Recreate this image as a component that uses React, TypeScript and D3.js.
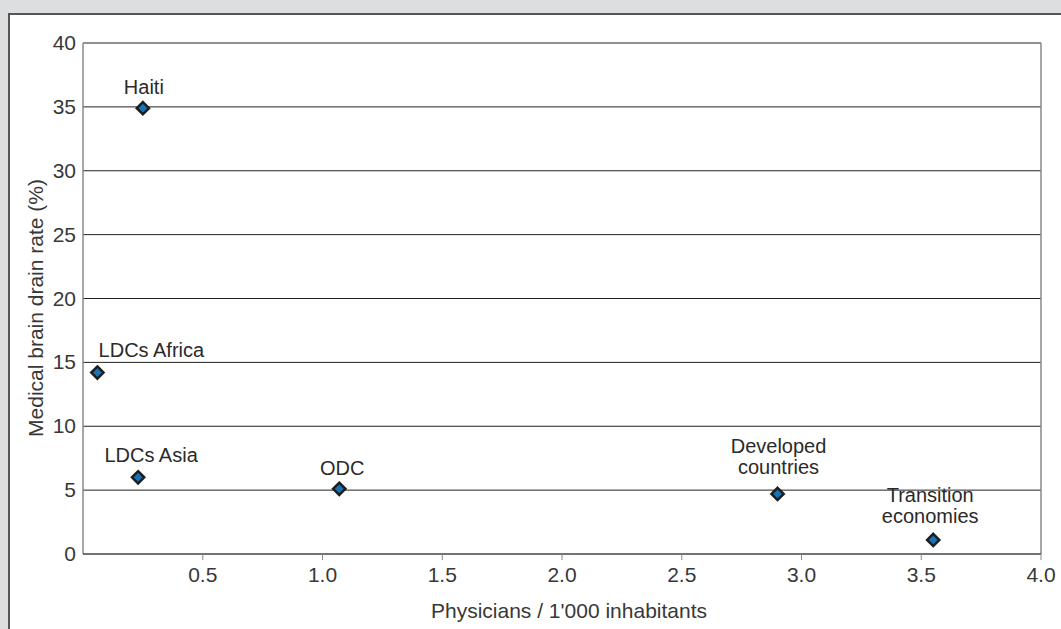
import React from "react";
import * as d3 from "d3";

const labels = [["Haiti"], ["LDCs Africa"], ["LDCs Asia"], ["ODC"], ["Developed", "countries"], ["Transition", "economies"]];
const physicians = [0.25, 0.06, 0.23, 1.07, 2.9, 3.55];
const drainRate = [34.9, 14.2, 6.0, 5.1, 4.7, 1.1];
const xTicks = [0.5, 1.0, 1.5, 2.0, 2.5, 3.0, 3.5, 4.0];
const yTicks = [0, 5, 10, 15, 20, 25, 30, 35, 40];

const W = 1061, H = 629;
const FONT = "'Liberation Sans', Arial, Helvetica, sans-serif";

export default function App() {
  const x = d3.scaleLinear().domain([0, 4]).range([83, 1041]);
  const y = d3.scaleLinear().domain([0, 40]).range([554, 43]);
  const diamond = d3.symbol().type(d3.symbolDiamond2).size(96)();
  // label offsets (relative to point) in px: dx, baseline dy of first line
  const labelPos = [
    { dx: 1, dy: -14 },
    { dx: 54, dy: -16 },
    { dx: 13, dy: -15 },
    { dx: 3, dy: -14 },
    { dx: 1, dy: -41 },
    { dx: -3, dy: -38 },
  ];
  return (
    <svg width={W} height={H} style={{ position: "absolute", left: 0, top: 0, display: "block" }} fontFamily={FONT}>
      <rect x={0} y={0} width={W} height={H} fill="#dddedf" />
      <rect x={9} y={14} width={W + 20} height={H + 20} fill="#ffffff" stroke="#555" strokeWidth={2} />
      {yTicks.filter(t => t > 0).map(t => (
        <line key={"g" + t} x1={x(0)} x2={x(4)} y1={y(t)} y2={y(t)} stroke="#222" strokeWidth={1} />
      ))}
      <line x1={x(0)} x2={x(0)} y1={y(40)} y2={y(0)} stroke="#888" strokeWidth={1.5} />
      <line x1={x(4)} x2={x(4)} y1={y(40)} y2={y(0)} stroke="#888" strokeWidth={1.5} />
      <line x1={x(0)} x2={x(4)} y1={y(0)} y2={y(0)} stroke="#444" strokeWidth={1.5} />
      {xTicks.map(t => (
        <g key={"x" + t}>
          <line x1={x(t)} x2={x(t)} y1={y(0)} y2={y(0) + 6} stroke="#888" strokeWidth={1} />
          <text x={x(t)} y={y(0) + 28} textAnchor="middle" fontSize={21} fill="#383838">{t.toFixed(1)}</text>
        </g>
      ))}
      {yTicks.map(t => (
        <text key={"y" + t} x={x(0) - 7} y={y(t) + 7} textAnchor="end" fontSize={21} fill="#383838">{t}</text>
      ))}
      <text x={569} y={618} textAnchor="middle" fontSize={21} fill="#383838">Physicians / 1'000 inhabitants</text>
      <text transform={`translate(43,308) rotate(-90)`} textAnchor="middle" fontSize={21} fill="#383838">Medical brain drain rate (%)</text>
      {physicians.map((p, i) => (
        <g key={"p" + i}>
          <path d={diamond || ""} transform={`translate(${x(p)},${y(drainRate[i])})`} fill="#1473b9" stroke="#1e1e1e" strokeWidth={2.5} />
          <text x={x(p) + labelPos[i].dx} y={y(drainRate[i]) + labelPos[i].dy} textAnchor="middle" fontSize={20} fill="#2a2a2a">
            {labels[i].map((l, j) => (
              <tspan key={j} x={x(p) + labelPos[i].dx} dy={j === 0 ? 0 : 21}>{l}</tspan>
            ))}
          </text>
        </g>
      ))}
    </svg>
  );
}
